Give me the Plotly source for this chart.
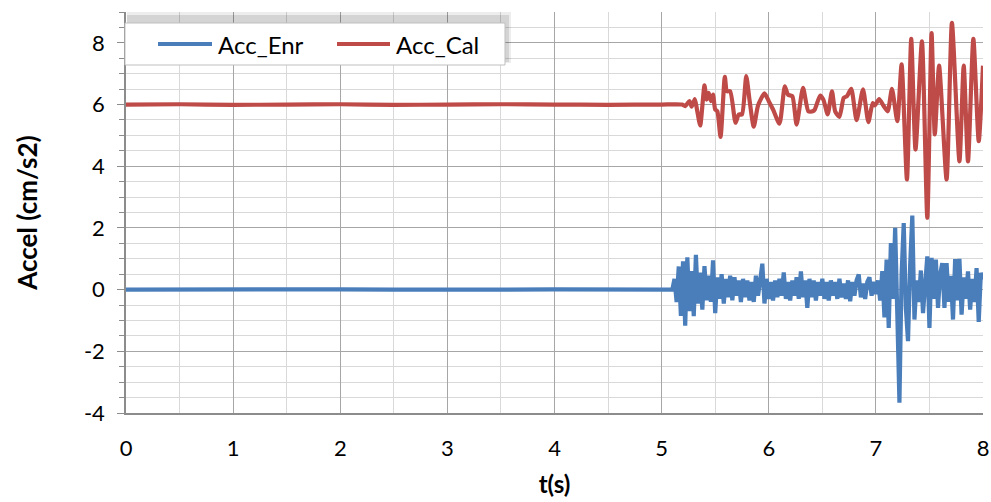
import plotly.graph_objects as go

# ---------------- data ----------------
enr_t = [0.0, 0.5, 1.0, 1.5, 2.0, 2.5, 3.0, 3.5, 4.0, 4.5, 5.0, 5.08,
         5.10, 5.12, 5.14, 5.16, 5.18, 5.20, 5.22, 5.24, 5.26, 5.28,
         5.30, 5.32, 5.34, 5.36, 5.38, 5.40, 5.42, 5.44, 5.46, 5.48,
         5.50, 5.52, 5.54, 5.56, 5.58, 5.60, 5.62, 5.64, 5.66, 5.68,
         5.70, 5.72, 5.74, 5.76, 5.78, 5.80, 5.82, 5.84, 5.86, 5.88,
         5.90, 5.92, 5.94, 5.96, 5.98, 6.00, 6.02, 6.04, 6.06, 6.08,
         6.10, 6.12, 6.14, 6.16, 6.18, 6.20, 6.22, 6.24, 6.26, 6.28,
         6.30, 6.32, 6.34, 6.36, 6.38, 6.40, 6.42, 6.44, 6.46, 6.48,
         6.50, 6.52, 6.54, 6.56, 6.58, 6.60, 6.62, 6.64, 6.66, 6.68,
         6.70, 6.72, 6.74, 6.76, 6.78, 6.80, 6.82, 6.84, 6.86, 6.88,
         6.90, 6.92, 6.94, 6.96, 6.98, 7.00, 7.02, 7.04, 7.06, 7.08,
         7.10, 7.12, 7.14, 7.16, 7.18, 7.20, 7.22, 7.24, 7.26, 7.28,
         7.30, 7.32, 7.34, 7.36, 7.38, 7.40, 7.42, 7.44, 7.46, 7.48,
         7.50, 7.52, 7.54, 7.56, 7.58, 7.60, 7.62, 7.64, 7.66, 7.68,
         7.70, 7.72, 7.74, 7.76, 7.78, 7.80, 7.82, 7.84, 7.86, 7.88,
         7.90, 7.92, 7.94, 7.96, 7.98, 8.00]
enr_v = [0.0, 0.01, -0.01, 0.0, 0.01, 0.0, -0.01, 0.0, 0.01, 0.0, -0.01, 0.0,
         0.00, 0.35, -0.40, 0.75, -0.85, 0.92, -1.17, 1.05, -0.70, 0.60,
         -0.86, 1.13, -0.45, 0.55, -0.65, 0.76, -0.35, 0.45, -0.40, 0.95,
         -0.76, 0.40, -0.30, 0.50, -0.45, 0.35, -0.25, 0.45, -0.35, 0.40,
         -0.20, 0.30, -0.40, 0.35, -0.25, 0.30, -0.35, 0.25, -0.40, 0.45,
         -0.20, 0.30, 0.84, -0.45, 0.35, -0.30, 0.25, -0.35, 0.30, -0.25,
         0.35, -0.20, 0.56, -0.30, 0.25, -0.35, 0.30, -0.20, 0.40, -0.30,
         0.59, -0.25, 0.30, -0.59, 0.35, -0.25, 0.30, -0.35, 0.25, -0.20,
         0.35, -0.30, 0.25, -0.35, 0.30, -0.20, 0.25, -0.30, 0.35, -0.25,
         0.20, -0.30, 0.30, -0.38, 0.25, -0.20, 0.30, 0.49, -0.25, 0.20,
         -0.30, 0.25, 0.40, -0.20, 0.25, -0.15, 0.30, -0.35, 0.60, -0.90,
         0.97, -1.24, 1.51, -0.30, 2.00, -0.80, -3.67, 0.50, 2.16, -0.60,
         -1.67, 0.80, 2.40, -0.97, 0.30, -0.40, 0.62, -0.76, 0.40, 1.08,
         -1.24, 1.03, -0.30, 0.97, -0.59, 0.50, 0.86, -0.59, 0.86, -0.40,
         0.45, -0.97, 0.99, -0.35, 1.00, -0.81, 0.40, -0.30, 0.59, -0.65,
         0.35, -0.40, 0.70, -1.05, 0.54, 0.32]

cal_t = [0.0, 0.5, 1.0, 1.5, 2.0, 2.5, 3.0, 3.5, 4.0, 4.5, 5.0, 5.19,
         5.22, 5.26, 5.28, 5.31, 5.33, 5.36, 5.40, 5.42, 5.44, 5.46,
         5.48, 5.50, 5.52, 5.55, 5.59, 5.61, 5.64, 5.69, 5.72, 5.75,
         5.79, 5.82, 5.86, 5.90, 5.96, 6.00, 6.04, 6.10, 6.15, 6.18,
         6.22, 6.26, 6.32, 6.37, 6.41, 6.43, 6.48, 6.51, 6.55, 6.59,
         6.62, 6.66, 6.70, 6.73, 6.77, 6.82, 6.88, 6.93, 6.97, 6.99,
         7.03, 7.07, 7.11, 7.15, 7.20, 7.24, 7.29, 7.33, 7.37, 7.43,
         7.48, 7.52, 7.55, 7.59, 7.66, 7.71, 7.78, 7.82, 7.86, 7.91,
         7.96, 8.00]
cal_v = [6.00, 6.01, 5.99, 6.00, 6.01, 5.99, 6.00, 6.01, 6.00, 5.99, 6.00, 6.00,
         5.95, 6.11, 5.93, 6.18, 5.84, 5.32, 6.62, 6.16, 6.38, 6.11,
         6.32, 5.84, 5.78, 4.95, 6.90, 6.43, 6.43, 5.41, 5.68, 5.68,
         6.92, 6.16, 5.28, 5.97, 6.36, 6.11, 5.84, 5.38, 6.59, 6.32,
         6.27, 5.35, 6.54, 5.78, 5.78, 5.84, 6.29, 6.16, 5.68, 6.43,
         5.78, 5.60, 6.22, 6.27, 6.51, 5.49, 6.49, 5.43, 6.05, 5.97,
         6.18, 5.97, 5.78, 6.51, 5.46, 7.30, 3.57, 8.13, 4.54, 8.05,
         2.33, 8.32, 5.03, 7.26, 3.57, 8.65, 4.16, 7.26, 4.16, 8.13,
         4.81, 7.26]

assert len(enr_t) == len(enr_v) and len(cal_t) == len(cal_v)

series = [
    {"name": "Acc_Enr", "t": enr_t, "v": enr_v, "color": "#4A7EBB", "shape": "linear"},
    {"name": "Acc_Cal", "t": cal_t, "v": cal_v, "color": "#BE4B48", "shape": "spline"},
]

x_ticks = [0, 1, 2, 3, 4, 5, 6, 7, 8]
y_ticks = [-4, -2, 0, 2, 4, 6, 8]

FONT = "Lato, 'Open Sans', sans-serif"

# ---------------- figure ----------------
W, H = 991, 502
L, R, T, B = 126, 8, 12, 89
PW, PH = W - L - R, H - T - B


def px(xp):
    return (xp - L) / PW


def py(yp):
    return (H - B - yp) / PH


fig = go.Figure()
for s in series:
    fig.add_trace(go.Scatter(
        x=s["t"], y=s["v"], mode="lines", name=s["name"],
        line=dict(color=s["color"], width=4.2, shape=s["shape"], smoothing=0.6),
        showlegend=False,
    ))

shapes = []
annotations = []
# legend shadow + box
shapes.append(dict(type="rect", xref="paper", yref="paper",
                   x0=px(127), x1=px(511), y0=py(63), y1=py(12),
                   fillcolor="rgba(0,0,0,0.07)", line=dict(width=0), layer="above"))
shapes.append(dict(type="rect", xref="paper", yref="paper",
                   x0=px(127), x1=px(509), y0=py(62), y1=py(15),
                   fillcolor="rgba(0,0,0,0.10)", line=dict(width=0), layer="above"))
shapes.append(dict(type="rect", xref="paper", yref="paper",
                   x0=px(125), x1=px(505), y0=py(65), y1=py(23),
                   fillcolor="white", line=dict(color="#BFBFBF", width=1), layer="above"))
leg_x = [(158, 212, 216), (337, 390, 394)]
for s, (a, b, tx) in zip(series, leg_x):
    shapes.append(dict(type="line", xref="paper", yref="paper",
                       x0=px(a), x1=px(b), y0=py(44), y1=py(44),
                       line=dict(color=s["color"], width=4), layer="above"))
    annotations.append(dict(xref="paper", yref="paper", x=px(tx), y=py(45),
                            xanchor="left", yanchor="middle", showarrow=False,
                            text=s["name"], font=dict(family=FONT, size=24, color="black")))

fig.update_layout(
    width=W, height=H,
    margin=dict(l=L, r=R, t=T, b=B, pad=0),
    paper_bgcolor="white", plot_bgcolor="white",
    font=dict(family=FONT, size=22, color="black"),
    shapes=shapes, annotations=annotations,
    showlegend=False,
)
fig.update_xaxes(
    range=[0, 8], tickmode="array", tickvals=x_ticks,
    ticktext=[str(v) for v in x_ticks],
    showgrid=True, gridcolor="#A6A6A6", gridwidth=1,
    minor=dict(dtick=0.5, tick0=0, showgrid=True, gridcolor="#D9D9D9", gridwidth=1),
    showline=True, linecolor="#8C8C8C", linewidth=1.5,
    ticks="", ticklabelstandoff=15, zeroline=False, automargin=False,
    title=dict(text="<b>t(s)</b>", font=dict(family=FONT, size=24), standoff=16),
    tickfont=dict(family=FONT, size=22),
)
fig.update_yaxes(
    range=[-4, 9], tickmode="array", tickvals=y_ticks,
    ticktext=[str(v) for v in y_ticks],
    showgrid=True, gridcolor="#A6A6A6", gridwidth=1,
    minor=dict(dtick=0.5, tick0=-4, showgrid=True, gridcolor="#D9D9D9", gridwidth=1,
               ticks="outside", ticklen=5, tickcolor="#8C8C8C"),
    showline=True, linecolor="#8C8C8C", linewidth=1.5,
    ticks="outside", ticklen=7, tickcolor="#8C8C8C",
    ticklabelstandoff=8, zeroline=False, automargin=False,
    title=dict(text="<b>Accel (cm/s2)</b>", font=dict(family=FONT, size=26), standoff=39),
    tickfont=dict(family=FONT, size=22),
)

fig.write_html("out.html")
